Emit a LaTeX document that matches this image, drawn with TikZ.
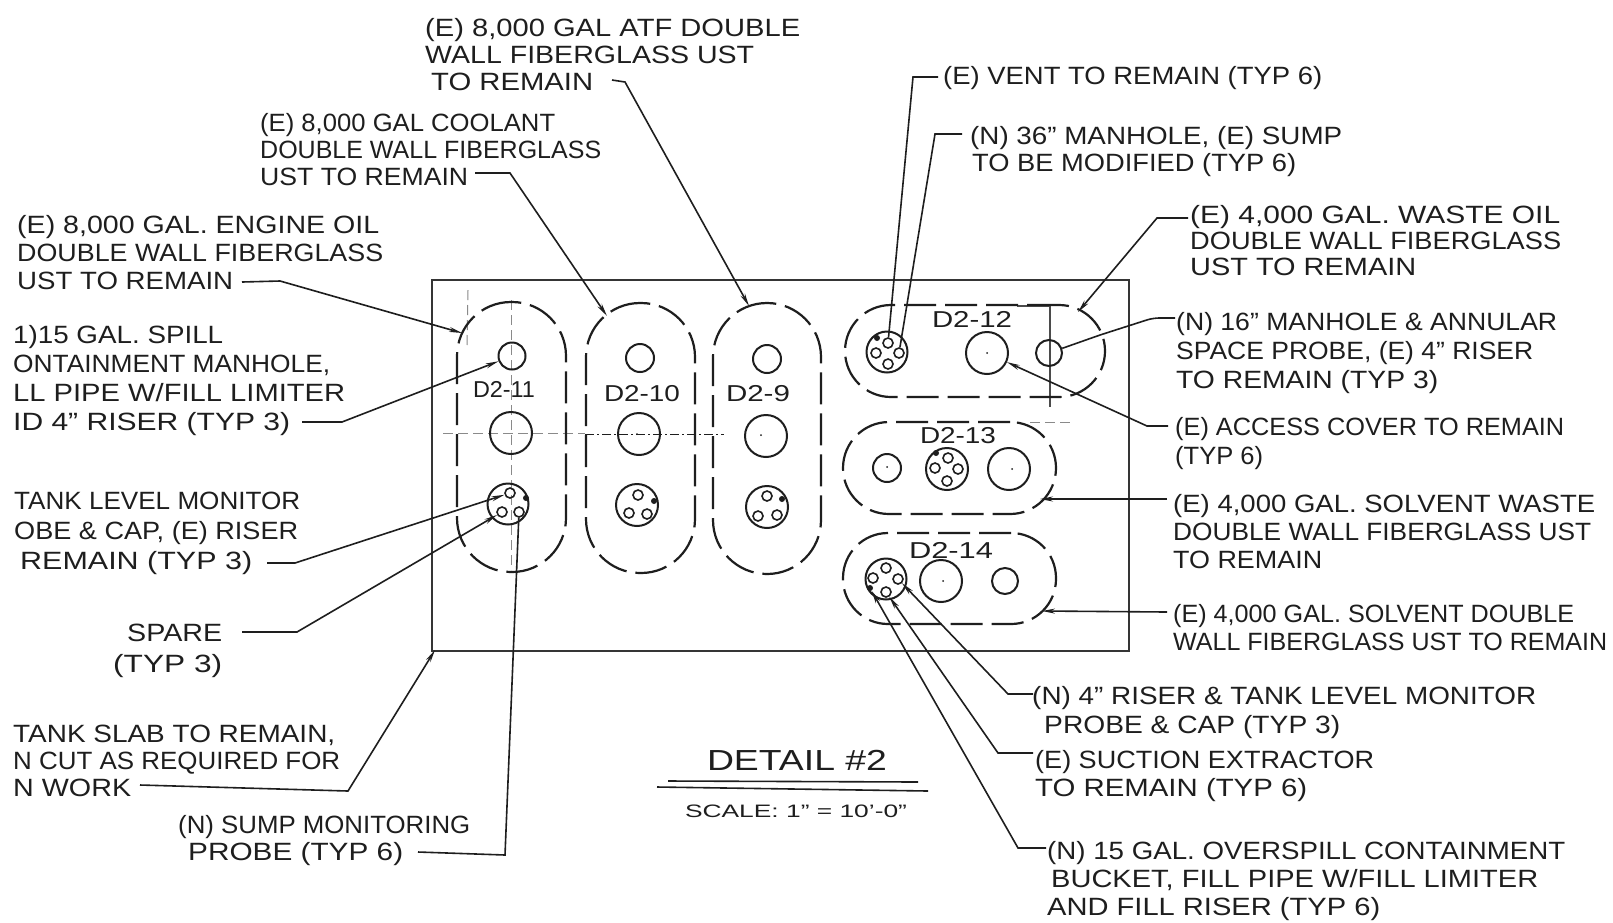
\documentclass[tikz,border=0pt]{standalone}
\usepackage{fontspec}
\usepackage{graphicx}
\setmainfont{Liberation Sans}
\usetikzlibrary{arrows.meta}
\definecolor{ink}{HTML}{1E1E1E}
\definecolor{faint}{HTML}{8A8A8A}
\newsavebox\flbox
\newcommand\fl[2]{\sbox\flbox{#2}\pgfmathsetmacro\fx{#1/\the\wd\flbox}\rule{0pt}{17pt}\rule[-6pt]{0pt}{0pt}\scalebox{\fx}[1]{\usebox\flbox}}
\tikzset{
  lbl/.style={anchor=north west,inner sep=0pt,align=left,text=ink,font=\fontsize{25}{#1}\selectfont},
  lbl/.default=27,
  tag/.style={inner sep=0pt,text=ink,font=\fontsize{23}{25}\selectfont},
  capsule/.style={draw=ink,line width=2.2pt,dash pattern=on 32pt off 9pt,rounded corners=#1,inner sep=0pt},
  well/.style={draw=ink,line width=2pt,circle,inner sep=0pt,minimum size=#1},
  bolt/.style={draw=ink,line width=1.6pt,circle,inner sep=0pt,minimum size=10pt},
  blob/.style={fill=ink,circle,inner sep=0pt,minimum size=6pt},
  pin/.style={fill=ink,circle,inner sep=0pt,minimum size=2pt},
  lead/.style={draw=ink,line width=1.6pt,-{Stealth[length=13pt,width=5pt]}},
  plain/.style={draw=ink,line width=1.6pt},
  centerl/.style={draw=ink,line width=0.9pt,dash pattern=on 9pt off 3pt on 2pt off 3pt},
  ghost/.style={draw=faint,line width=1pt,dash pattern=on 10pt off 5pt},
}
\begin{document}
\begin{tikzpicture}[x=1pt,y=-1pt]
\useasboundingbox[fill=white] (0,0) rectangle (1613,922);

% slab
\node[draw=ink!90,line width=2pt,inner sep=0pt,minimum width=697pt,minimum height=371pt,anchor=north west] (slab) at (431,279) {};

% faint construction lines
\coordinate (g1a) at (468,290); \coordinate (g1b) at (467,345);
\draw[ghost] (g1a) -- (g1b);
\coordinate (g2a) at (511,300); \coordinate (g2b) at (511,570);
\draw[ghost] (g2a) -- (g2b);
\coordinate (g3a) at (443,433); \coordinate (g3b) at (585,433);
\draw[ghost] (g3a) -- (g3b);
\coordinate (g4a) at (585,434); \coordinate (g4b) at (724,434);
\draw[centerl] (g4a) -- (g4b);
\coordinate (g5a) at (1050,306); \coordinate (g5b) at (1050,407); \coordinate (g5c) at (1017,306);
\draw[draw=ink!80,line width=1.2pt] (g5c) -- (g5a) -- (g5b);
\coordinate (g6a) at (1030,422); \coordinate (g6b) at (1070,422);
\draw[ghost] (g6a) -- (g6b);

% tank outlines
\node[capsule=54pt,minimum width=109pt,minimum height=270pt] (t11) at (511.5,437) {};
\node[capsule=54pt,minimum width=109pt,minimum height=270pt] (t10) at (640.5,438) {};
\node[capsule=54pt,minimum width=108pt,minimum height=271pt] (t9) at (767,438.5) {};
\node[capsule=46pt,minimum width=260pt,minimum height=92pt] (t12) at (975,351) {};
\node[capsule=46pt,minimum width=213pt,minimum height=92pt] (t13) at (949.5,468) {};
\node[capsule=45pt,minimum width=213pt,minimum height=91pt] (t14) at (949.5,578.5) {};

% tank names
\node[tag] (n11) at (504,392) {\fl{62}{D2-11}};
\node[tag] (n10) at (642,396) {\fl{76}{D2-10}};
\node[tag] (n9) at (758,396) {\fl{64}{D2-9}};
\node[tag] (n12) at (972,322) {\fl{80}{D2-12}};
\node[tag] (n13) at (958,438) {\fl{76}{D2-13}};
\node[tag] (n14) at (951,553) {\fl{84}{D2-14}};

% D2-11
\node[well=27pt] (a1) at (512,356) {};
\node[well=42pt] (a2) at (511,433) {};
\node[well=41pt] (a3) at (508,504) {};
\node[bolt] (a3a) at (510,493) {}; \node[bolt] (a3b) at (502,512) {}; \node[bolt] (a3c) at (519,512) {};
\node[blob] (a3d) at (526,498) {};
% D2-10
\node[well=28pt] (b1) at (640,358) {};
\node[well=42pt] (b2) at (639,434) {}; \node[pin] (b2p) at (637,434) {};
\node[well=42pt] (b3) at (637,505) {};
\node[bolt] (b3a) at (638,495) {}; \node[bolt] (b3b) at (629,513) {}; \node[bolt] (b3c) at (647,514) {};
\node[blob] (b3d) at (654,501) {};
% D2-9
\node[well=28pt] (c1) at (767,359) {};
\node[well=42pt] (c2) at (766,436) {}; \node[pin] (c2p) at (761,435) {};
\node[well=42pt] (c3) at (767,507) {};
\node[bolt] (c3a) at (767,496) {}; \node[bolt] (c3b) at (758,516) {}; \node[bolt] (c3c) at (777,515) {};
\node[blob] (c3d) at (782,499) {};
% D2-12
\node[well=41pt] (d1) at (887,352) {};
\node[bolt] (d1a) at (888,343) {}; \node[bolt] (d1b) at (876,353) {}; \node[bolt] (d1c) at (899,353) {}; \node[bolt] (d1d) at (888,364) {};
\node[blob] (d1e) at (877,338) {};
\node[well=42pt] (d2) at (987,353) {}; \node[pin] (d2p) at (987,353) {};
\node[well=26pt] (d3) at (1049,353) {};
% D2-13
\node[well=28pt] (e1) at (887,468) {}; \node[pin] (e1p) at (887,467) {};
\node[well=42pt] (e2) at (947,469) {};
\node[bolt] (e2a) at (948,458) {}; \node[bolt] (e2b) at (935,468) {}; \node[bolt] (e2c) at (958,469) {}; \node[bolt] (e2d) at (947,481) {};
\node[blob] (e2e) at (936,453) {};
\node[well=42pt] (e3) at (1009,469) {}; \node[pin] (e3p) at (1012,469) {};
% D2-14
\node[well=41pt] (f1) at (886,579) {};
\node[bolt] (f1a) at (886,568) {}; \node[bolt] (f1b) at (873,578) {}; \node[bolt] (f1c) at (898,579) {}; \node[bolt] (f1d) at (886,592) {};
\node[blob] (f1e) at (870,588) {};
\node[well=42pt] (f2) at (941,581) {}; \node[pin] (f2p) at (943,581) {};
\node[well=26pt] (f3) at (1005,581) {};

% labels
\node[lbl] (la) at (425,18) {\fl{375}{(E) 8,000 GAL ATF DOUBLE}\\\fl{329}{WALL FIBERGLASS UST}\\\hspace{6pt}\fl{162}{TO REMAIN}};
\node[lbl] (lb) at (260,113) {\fl{295}{(E) 8,000 GAL COOLANT}\\\fl{341}{DOUBLE WALL FIBERGLASS}\\\fl{208}{UST TO REMAIN}};
\node[lbl=28] (lc) at (17,215) {\fl{362}{(E) 8,000 GAL. ENGINE OIL}\\\fl{366}{DOUBLE WALL FIBERGLASS}\\\fl{216}{UST TO REMAIN}};
\node[lbl=29] (ld) at (13,325) {\fl{210}{1)15 GAL. SPILL}\\\fl{317}{ONTAINMENT MANHOLE,}\\\fl{332}{LL PIPE W/FILL LIMITER}\\\fl{277}{ID 4" RISER (TYP 3)}};
\node[lbl=30] (le) at (14,492) {\fl{286}{TANK LEVEL MONITOR}\\\fl{284}{OBE \& CAP, (E) RISER}\\\hspace{6pt}\fl{232}{REMAIN (TYP 3)}};
\node[lbl=31,align=right] (lf) at (113,624) {\fl{95}{SPARE}\\\fl{109}{(TYP 3)}};
\node[lbl] (lg) at (13,725) {\fl{322}{TANK SLAB TO REMAIN,}\\\fl{327}{N CUT AS REQUIRED FOR}\\\fl{118}{N WORK}};
\node[lbl] (lh) at (178,815) {\fl{292}{(N) SUMP MONITORING}\\\hspace{10pt}\fl{215}{PROBE (TYP 6)}};
\node[lbl] (li) at (943,66) {\fl{379}{(E) VENT TO REMAIN (TYP 6)}};
\node[lbl] (lj) at (970,126) {\fl{372}{(N) 36" MANHOLE, (E) SUMP}\\\hspace{2pt}\fl{324}{TO BE MODIFIED (TYP 6)}};
\node[lbl=26] (lk) at (1190,205) {\fl{370}{(E) 4,000 GAL. WASTE OIL}\\\fl{371}{DOUBLE WALL FIBERGLASS}\\\fl{226}{UST TO REMAIN}};
\node[lbl=29] (ll) at (1176,312) {\fl{381}{(N) 16" MANHOLE \& ANNULAR}\\\fl{357}{SPACE PROBE, (E) 4" RISER}\\\fl{262}{TO REMAIN (TYP 3)}};
\node[lbl=29] (lm) at (1175,417) {\fl{389}{(E) ACCESS COVER TO REMAIN}\\\fl{88}{(TYP 6)}};
\node[lbl=28] (ln) at (1173,494) {\fl{422}{(E) 4,000 GAL. SOLVENT WASTE}\\\fl{418}{DOUBLE WALL FIBERGLASS UST}\\\fl{149}{TO REMAIN}};
\node[lbl=28] (lo) at (1173,604) {\fl{401}{(E) 4,000 GAL. SOLVENT DOUBLE}\\\fl{434}{WALL FIBERGLASS UST TO REMAIN}};
\node[lbl=29] (lp) at (1032,686) {\fl{504}{(N) 4" RISER \& TANK LEVEL MONITOR}\\\hspace{12pt}\fl{296}{PROBE \& CAP (TYP 3)}};
\node[lbl=28] (lq) at (1035,750) {\fl{339}{(E) SUCTION EXTRACTOR}\\\fl{272}{TO REMAIN (TYP 6)}};
\node[lbl=28] (lr) at (1047,841) {\fl{518}{(N) 15 GAL. OVERSPILL CONTAINMENT}\\\hspace{4pt}\fl{487}{BUCKET, FILL PIPE W/FILL LIMITER}\\\fl{333}{AND FILL RISER (TYP 6)}};

% title
\node[inner sep=0pt,text=ink,font=\fontsize{29}{31}\selectfont] (title) at (797,763) {\fl{180}{DETAIL \#2}};
\node[inner sep=0pt,text=ink,font=\fontsize{18}{20}\selectfont] (scale) at (796,812) {\fl{222}{SCALE: 1" = 10'-0"}};
\coordinate (u1a) at (668,781); \coordinate (u1b) at (918,782);
\coordinate (u2a) at (657,787); \coordinate (u2b) at (928,791);
\draw[plain] (u1a) -- (u1b);
\draw[plain] (u2a) -- (u2b);

% leaders
\coordinate (p1a) at (612,80); \coordinate (p1b) at (625,82); \coordinate (p1c) at (749,306);
\draw[lead] (p1a) -- (p1b) -- (p1c);
\coordinate (p2a) at (475,173); \coordinate (p2b) at (510,173); \coordinate (p2c) at (607,316);
\draw[lead] (p2a) -- (p2b) -- (p2c);
\coordinate (p3a) at (242,282); \coordinate (p3b) at (280,281); \coordinate (p3c) at (462,333);
\draw[lead] (p3a) -- (p3b) -- (p3c);
\coordinate (p4a) at (302,422); \coordinate (p4b) at (342,422);
\draw[lead] (p4a) -- (p4b) -- (a1);
\coordinate (p5a) at (267,563); \coordinate (p5b) at (295,563);
\draw[lead] (p5a) -- (p5b) -- (a3a);
\coordinate (p6a) at (242,632); \coordinate (p6b) at (297,632);
\draw[lead] (p6a) -- (p6b) -- (a3b);
\coordinate (p7a) at (140,785); \coordinate (p7b) at (348,791); \coordinate (p7c) at (435,650);
\draw[lead] (p7a) -- (p7b) -- (p7c);
\coordinate (p8a) at (418,852); \coordinate (p8b) at (505,855);
\draw[plain] (p8a) -- (p8b) -- (a3c);
\coordinate (p9a) at (938,77); \coordinate (p9b) at (913,77);
\draw[plain] (p9a) -- (p9b) -- (d1a);
\coordinate (p10a) at (962,134); \coordinate (p10b) at (935,134);
\draw[plain] (p10a) -- (p10b) -- (d1c);
\coordinate (p11a) at (1188,218); \coordinate (p11b) at (1157,218); \coordinate (p11c) at (1078,312);
\draw[lead] (p11a) -- (p11b) -- (p11c);
\coordinate (p12a) at (1175,318); \coordinate (p12b) at (1153,318); \coordinate (p12c) at (1100,335);
\draw[plain,rounded corners=6pt] (p12a) -- (p12b) -- (p12c) -- (d3);
\coordinate (p13a) at (1168,426); \coordinate (p13b) at (1147,426);
\draw[lead] (p13a) -- (p13b) -- (d2);
\coordinate (p14a) at (1167,499); \coordinate (p14b) at (1040,499);
\draw[lead] (p14a) -- (p14b);
\coordinate (p15a) at (1167,612); \coordinate (p15b) at (1042,611);
\draw[lead] (p15a) -- (p15b);
\coordinate (p16a) at (1033,694); \coordinate (p16b) at (1008,694);
\draw[lead] (p16a) -- (p16b) -- (f1c);
\coordinate (p17a) at (1033,753); \coordinate (p17b) at (998,753);
\draw[lead] (p17a) -- (p17b) -- (f1d);
\coordinate (p18a) at (1046,848); \coordinate (p18b) at (1018,848);
\draw[lead] (p18a) -- (p18b) -- (f1e);
\end{tikzpicture}
\end{document}
